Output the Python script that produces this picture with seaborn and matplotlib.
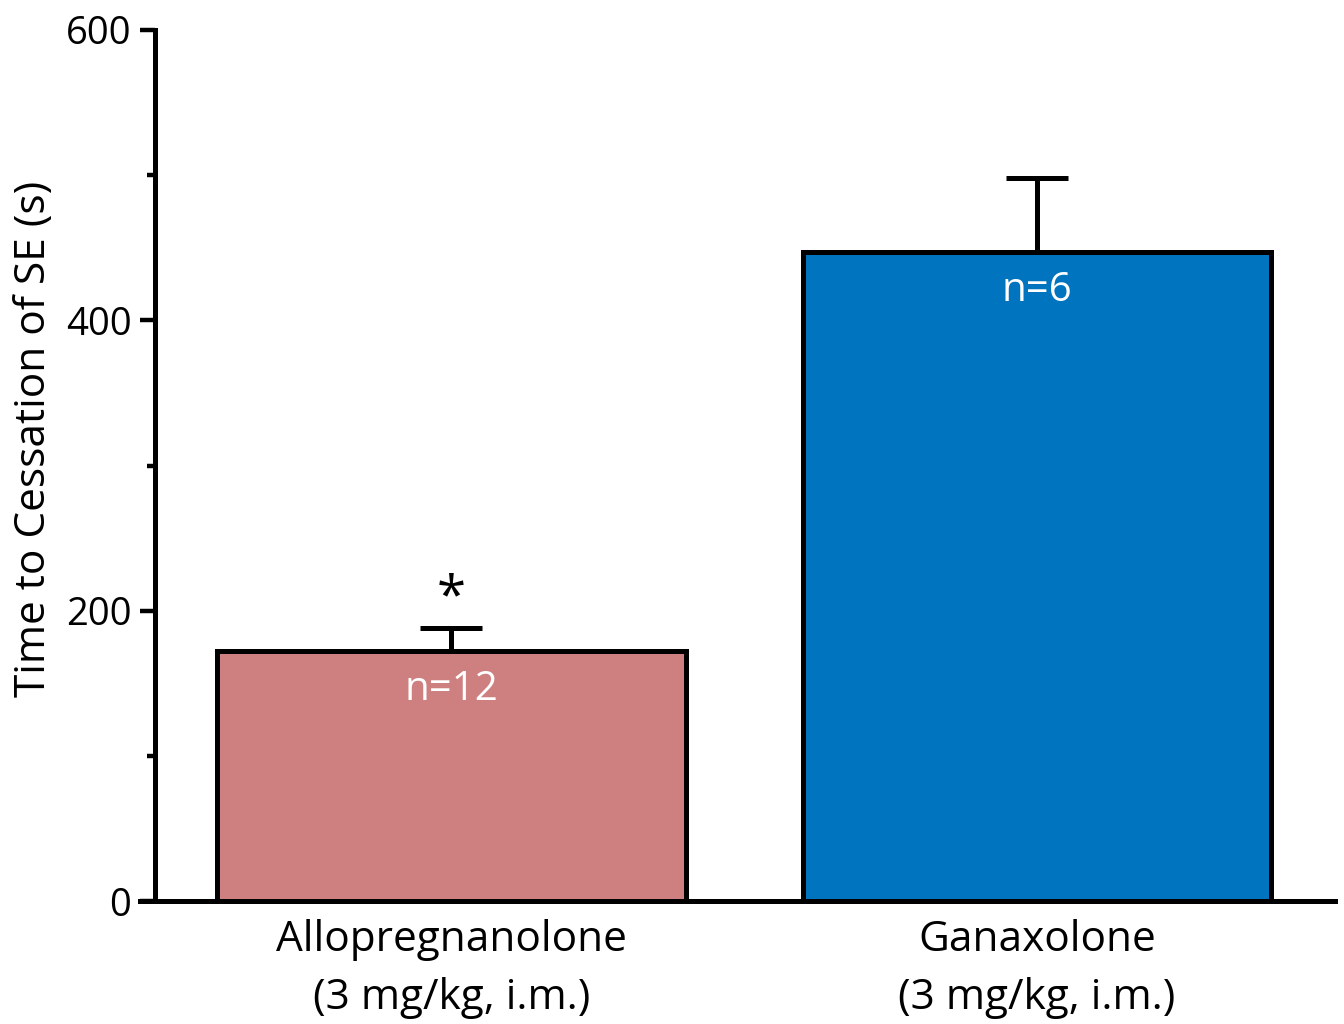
import matplotlib
matplotlib.use("Agg")
import matplotlib.pyplot as plt
from matplotlib.ticker import MultipleLocator
import seaborn as sns
import pandas as pd

# Group means and SEM (seconds)
groups = ["Allopregnanolone\n(3 mg/kg, i.m.)", "Ganaxolone\n(3 mg/kg, i.m.)"]
means = [172, 447]
sems = [16, 51]
n_labels = ["n=12", "n=6"]
sig_marks = ["*", ""]
colors = ["#CE7F7F", "#0174BF"]

sns.set_theme(style="white")
plt.rcParams["font.family"] = ["Open Sans", "DejaVu Sans"]
plt.rcParams["text.color"] = "black"
plt.rcParams["axes.labelcolor"] = "black"
plt.rcParams["xtick.color"] = "black"
plt.rcParams["ytick.color"] = "black"

df = pd.DataFrame({"group": groups, "time": means})

fig = plt.figure(figsize=(13.44, 10.24), dpi=100)
ax = fig.add_axes([140 / 1344, 1 - 901 / 1024, 1195 / 1344, 871 / 1024])

sns.barplot(data=df, x="group", y="time", hue="group", palette=colors,
            width=0.8, errorbar=None, legend=False, ax=ax,
            edgecolor="black", linewidth=3.6, saturation=1)

# One-sided SEM bars
xs = list(range(len(groups)))
ax.errorbar(xs, means, yerr=[[0] * len(sems), sems], fmt="none",
            ecolor="black", elinewidth=3.6, capsize=22, capthick=3.6, zorder=3)

for x, m, s, n, mark in zip(xs, means, sems, n_labels, sig_marks):
    ax.annotate(n, (x, m), xytext=(0, -13), textcoords="offset points",
                ha="center", va="top", color="white", fontsize=29)
    if mark:
        ax.annotate(mark, (x, m + s), xytext=(0, 2), textcoords="offset points",
                    ha="center", va="bottom", color="black", fontsize=38)

ax.set_xlim(-0.532, 1.509)
ax.set_ylim(0, 600)
ax.yaxis.set_major_locator(MultipleLocator(200))
ax.yaxis.set_minor_locator(MultipleLocator(100))

ax.set_xlabel("")
ax.set_ylabel("Time to Cessation of SE (s)", fontsize=30.5)
ax.yaxis.set_label_coords(-0.071, 0.53)

for side in ["top", "right"]:
    ax.spines[side].set_visible(False)
ax.spines["left"].set_position(("axes", 15 / 1195))
for side in ["left", "bottom"]:
    ax.spines[side].set_linewidth(3.6)
    ax.spines[side].set_color("black")

ax.tick_params(axis="y", which="major", length=11, width=3.2, labelsize=27.5,
               pad=6, left=True, color="black")
ax.tick_params(axis="y", which="minor", length=6, width=3.2, left=True,
               color="black")
ax.tick_params(axis="x", length=0, labelsize=30.5, pad=13)
for lbl in ax.get_xticklabels():
    lbl.set_linespacing(1.5)

fig.savefig("out.png", dpi=100, facecolor="white")
